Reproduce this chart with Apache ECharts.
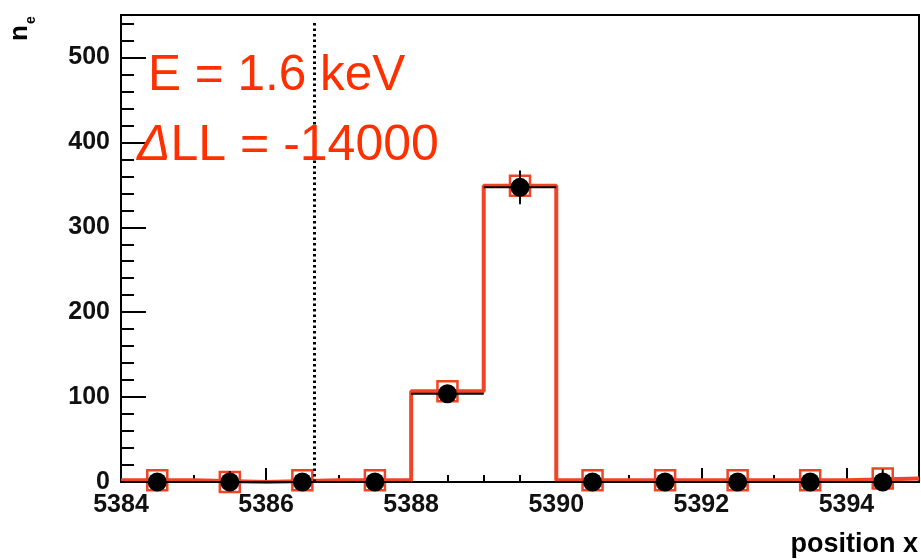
<!DOCTYPE html>
<html><head><meta charset="utf-8">
<script src="https://cdn.jsdelivr.net/npm/echarts@6/dist/echarts.min.js"></script>
<style>html,body{margin:0;padding:0;background:#fff}#c{width:921px;height:559px}</style>
</head><body><div id="c"></div>
<script>
// ---- data ----
const binLow      = [5384, 5385, 5386, 5387, 5388, 5389, 5390, 5391, 5392, 5393, 5394];
const binCenters  = [5384.5, 5385.5, 5386.5, 5387.5, 5388.5, 5389.5, 5390.5, 5391.5, 5392.5, 5393.5, 5394.5];
const binWidth    = 1;
const modelValues = [2, 0, 2, 2, 107, 349, 2, 2, 2, 2, 4];
const dataValues  = [0, 0, 0, 0, 104, 347, 0, 0, 0, 0, 0];
const errUp       = [0, 13, 0, 0, 10, 20, 0, 0, 0, 0, 15];
const errDown     = [0, 0, 0, 0, 10, 20, 0, 0, 0, 0, 0];
const thresholdX  = 5386.66;
const thresholdTop = 543;
const xRange = [5384, 5395];
const yRange = [0, 550];
const annotationE  = 'E = 1.6 keV';
const annotationLL = '-14000';

const RED_TXT = '#ff3000';
const RED_LN  = '#f04424';
const FONT = '"Liberation Sans", Arial, Helvetica, sans-serif';

const stepData = binLow.map((x, i) => [x, modelValues[i]]);
stepData.push([binLow[binLow.length - 1] + binWidth, modelValues[modelValues.length - 1]]);
const squareData = binCenters.map((x, i) => [x, modelValues[i]]);
const dotData = binCenters.map((x, i) => [x, dataValues[i]]);
const errData = binCenters.map((x, i) => [x, dataValues[i], errDown[i], errUp[i]]);

const chart = echarts.init(document.getElementById('c'), null, {renderer: 'canvas'});
const labelStyle = {color: '#111', fontSize: 25, fontWeight: 'bold', fontFamily: FONT, formatter: v => String(v)};

chart.setOption({
  animation: false,
  backgroundColor: '#fff',
  grid: {left: 121, right: 2, top: 15, bottom: 77, show: true, borderColor: '#000', borderWidth: 2, backgroundColor: 'transparent'},
  xAxis: [
    {type: 'value', min: xRange[0], max: xRange[1], interval: 2,
     axisLine: {show: true, onZero: false, lineStyle: {color: '#000', width: 2}},
     axisTick: {show: true, inside: true, length: 14, lineStyle: {color: '#000', width: 2}},
     axisLabel: Object.assign({margin: 11, showMaxLabel: false}, labelStyle),
     splitLine: {show: false}},
    {type: 'value', min: xRange[0], max: xRange[1], interval: 0.5, position: 'bottom',
     axisLine: {show: false},
     axisTick: {show: true, inside: true, length: 7, lineStyle: {color: '#000', width: 2}},
     axisLabel: {show: false}, splitLine: {show: false}}
  ],
  yAxis: [
    {type: 'value', min: yRange[0], max: yRange[1], interval: 100,
     axisLine: {show: true, onZero: false, lineStyle: {color: '#000', width: 2}},
     axisTick: {show: true, inside: true, length: 25, lineStyle: {color: '#000', width: 2}},
     axisLabel: Object.assign({margin: 11, showMaxLabel: false}, labelStyle),
     splitLine: {show: false}},
    {type: 'value', min: yRange[0], max: yRange[1], interval: 20, position: 'left',
     axisLine: {show: false},
     axisTick: {show: true, inside: true, length: 13, lineStyle: {color: '#000', width: 2}},
     axisLabel: {show: false}, splitLine: {show: false}}
  ],
  series: [
    {type: 'line', name: 'model', data: stepData, step: 'end', symbol: 'none', z: 2,
     lineStyle: {color: RED_LN, width: 4},
     markLine: {silent: true, symbol: 'none', label: {show: false},
       lineStyle: {color: '#000', width: 3, type: [2.5, 3]},
       data: [[{coord: [thresholdX, yRange[0]]}, {coord: [thresholdX, thresholdTop]}]]}},
    {type: 'scatter', name: 'model points', data: squareData, symbol: 'rect', symbolSize: 20, z: 3,
     itemStyle: {color: 'rgba(255,255,255,0)', borderColor: RED_LN, borderWidth: 2.5, opacity: 1}},
    {type: 'custom', name: 'errors', data: errData, z: 4,
     renderItem: function (params, api) {
       const x = api.value(0), y = api.value(1), lo = api.value(2), hi = api.value(3);
       const pL = api.coord([x - binWidth / 2, y]);
       const pR = api.coord([x + binWidth / 2, y]);
       const pT = api.coord([x, y + hi]);
       const pB = api.coord([x, y - lo]);
       return {type: 'group', children: [
         {type: 'line', shape: {x1: pL[0], y1: pL[1], x2: pR[0], y2: pR[1]}, style: {stroke: '#000', lineWidth: 2}},
         {type: 'line', shape: {x1: pT[0], y1: pT[1], x2: pB[0], y2: pB[1]}, style: {stroke: '#000', lineWidth: 2}}
       ]};
     }},
    {type: 'scatter', name: 'data', data: dotData, symbol: 'circle', symbolSize: 19, z: 5,
     itemStyle: {color: '#000', opacity: 1}}
  ],
  graphic: [
    {type: 'text', x: 148, y: 76, z: 10,
     style: {text: annotationE, fill: RED_TXT, fontSize: 49.5, fontFamily: FONT, verticalAlign: 'middle'}},
    {type: 'text', x: 137, y: 146, z: 10,
     style: {text: '{d|Δ}LL = ' + annotationLL, fill: RED_TXT, fontSize: 50, fontFamily: FONT, verticalAlign: 'middle',
       rich: {d: {fontStyle: 'italic', fontSize: 50, fontFamily: FONT, fill: RED_TXT}}}},
    {type: 'text', x: 20, y: 33, rotation: Math.PI / 2,
     style: {text: 'n', fill: '#000', fontSize: 26, fontWeight: 'bold', fontFamily: FONT, align: 'center', verticalAlign: 'middle'}},
    {type: 'text', x: 31, y: 20, rotation: Math.PI / 2,
     style: {text: 'e', fill: '#000', fontSize: 14, fontWeight: 'bold', fontFamily: FONT, align: 'center', verticalAlign: 'middle'}},
    {type: 'text', x: 918, y: 545,
     style: {text: 'position x', fill: '#000', fontSize: 27, fontWeight: 'bold', fontFamily: FONT, align: 'right', verticalAlign: 'middle'}}
  ]
});
</script>
</body></html>
